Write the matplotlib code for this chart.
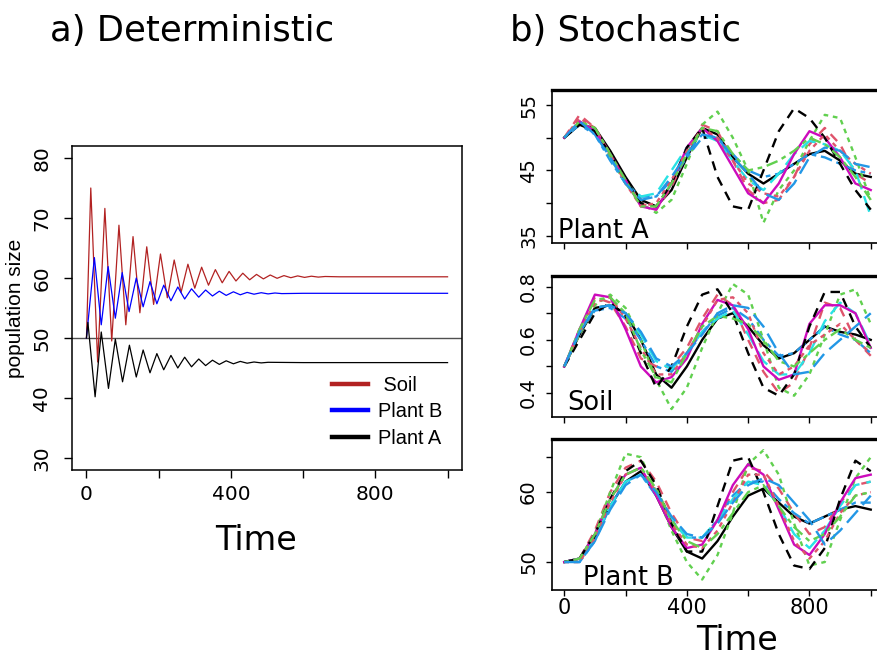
import matplotlib
matplotlib.use("Agg")
import matplotlib.pyplot as plt
from matplotlib.lines import Line2D

# ---------------- data: a) deterministic (extrema read from the picture) ----------------
det_soil_t = [0, 12, 31, 51, 70, 90, 109, 129, 148, 167, 186, 205, 224, 243, 262, 281, 300, 319, 338, 357,
              376, 395, 414, 433, 452, 471, 490, 509, 528, 547, 566, 585, 604, 623, 642, 661, 700, 1000]
det_soil = [50, 75.0, 46.0, 71.6, 49.5, 68.8, 52.2, 66.9, 54.2, 65.2, 55.6, 64.0, 56.7, 63.0, 57.6, 62.3,
            58.3, 61.8, 58.8, 61.4, 59.2, 61.1, 59.5, 60.8, 59.7, 60.6, 59.85, 60.5, 59.95, 60.4, 60.05,
            60.35, 60.1, 60.3, 60.15, 60.25, 60.2, 60.2]

det_pb_t = [0, 22, 41, 60, 80, 99, 118, 138, 157, 176, 195, 214, 234, 253, 272, 291, 311, 330, 349, 368,
            387, 407, 426, 445, 464, 484, 503, 522, 541, 600, 1000]
det_pb = [50, 63.4, 52.2, 61.9, 53.3, 60.9, 54.4, 60.0, 55.2, 59.4, 55.7, 58.8, 56.2, 58.5, 56.5, 58.2,
          56.8, 58.0, 57.0, 57.8, 57.1, 57.7, 57.2, 57.6, 57.3, 57.55, 57.35, 57.5, 57.4, 57.45, 57.45]

det_pa_t = [0, 4, 24, 41, 61, 80, 100, 119, 138, 157, 176, 195, 214, 234, 253, 272, 291, 311, 330, 349,
            368, 387, 407, 426, 445, 464, 484, 503, 600, 1000]
det_pa = [50, 52.6, 40.2, 51.0, 41.6, 49.8, 42.7, 48.8, 43.5, 48.0, 44.2, 47.4, 44.7, 47.1, 45.0, 46.8,
          45.2, 46.5, 45.4, 46.3, 45.6, 46.2, 45.7, 46.1, 45.8, 46.0, 45.85, 45.95, 45.9, 45.9]

det_labels = ["Soil", "Plant B", "Plant A"]
det_colors = ["#B22222", "#0000FF", "#000000"]
det_ref_level = 50

# ---------------- data: b) stochastic runs ----------------
stoch_t = [0, 50, 100, 150, 200, 250, 300, 350, 400, 450, 500, 550, 600, 650, 700, 750, 800, 850, 900, 950, 1000]

plantA_runs = [
    [50, 52, 51.5, 48, 44, 40.5, 39.5, 42, 47, 51.5, 50.5, 47, 44.5, 43, 44.5, 46, 47.5, 48, 46.5, 44.5, 44],
    [50, 53.5, 51.5, 47.5, 43.5, 40, 39, 42.5, 47.5, 52, 51, 46.5, 42, 40, 40.5, 44, 49, 51.5, 49, 44.5, 43],
    [50, 52.5, 51, 47, 43, 40, 38.5, 40.5, 46, 52, 54, 50, 45, 37, 42, 45, 49.5, 53.5, 53, 47, 40.5],
    [50, 52, 50.5, 46.5, 43, 41, 41, 43.5, 47, 50, 50, 47.5, 45, 44, 44.5, 46, 47.5, 47, 46, 45, 44.5],
    [50, 52.5, 51, 47, 43, 41, 41.5, 45, 48.5, 50.5, 49.5, 46.5, 43.5, 42, 44.5, 47.5, 49.5, 49, 48, 45, 38],
    [50, 52.5, 51, 47.5, 43.5, 39.5, 39, 43, 48.5, 51.5, 49.5, 45.5, 41.5, 40, 43, 47.5, 51, 50, 47, 43, 42],
    [50, 52, 51, 47.5, 43.5, 40, 39.5, 43, 48.5, 51.5, 44, 39.5, 39, 45, 51, 54.5, 53, 50, 46, 42, 39],
    [50, 53, 51.5, 47.5, 43, 39.5, 40, 43.5, 48, 51.5, 50, 46.5, 43, 41.5, 41, 44, 48, 50.5, 48, 46, 44.5],
    [50, 52.5, 51.5, 47.5, 43.5, 39.5, 39.5, 43, 47.5, 51.5, 51, 47.5, 45, 45.5, 46.5, 48, 50, 49, 47, 44, 40.5],
    [50, 52.5, 50.5, 47, 43, 40.5, 41, 44, 47.5, 50.5, 50, 47, 44.5, 41.5, 40.5, 43, 47, 48.5, 48, 46, 45.5],
]

soil_runs = [
    [0.5, 0.62, 0.72, 0.73, 0.7, 0.6, 0.47, 0.42, 0.5, 0.6, 0.68, 0.7, 0.65, 0.58, 0.53, 0.55, 0.6, 0.65, 0.63, 0.62, 0.6],
    [0.5, 0.64, 0.76, 0.74, 0.65, 0.53, 0.5, 0.5, 0.57, 0.68, 0.77, 0.73, 0.6, 0.48, 0.4, 0.44, 0.57, 0.74, 0.72, 0.6, 0.54],
    [0.5, 0.62, 0.73, 0.77, 0.72, 0.6, 0.45, 0.34, 0.42, 0.57, 0.7, 0.81, 0.77, 0.6, 0.42, 0.39, 0.47, 0.62, 0.77, 0.79, 0.66],
    [0.5, 0.63, 0.71, 0.72, 0.68, 0.6, 0.5, 0.48, 0.55, 0.63, 0.69, 0.72, 0.68, 0.6, 0.54, 0.55, 0.6, 0.65, 0.62, 0.6, 0.55],
    [0.5, 0.63, 0.72, 0.73, 0.7, 0.62, 0.52, 0.49, 0.55, 0.63, 0.68, 0.71, 0.62, 0.52, 0.47, 0.47, 0.55, 0.67, 0.74, 0.7, 0.58],
    [0.5, 0.64, 0.77, 0.76, 0.64, 0.5, 0.44, 0.46, 0.53, 0.66, 0.75, 0.73, 0.64, 0.5, 0.45, 0.47, 0.66, 0.73, 0.73, 0.7, 0.57],
    [0.5, 0.6, 0.7, 0.74, 0.69, 0.55, 0.42, 0.5, 0.65, 0.77, 0.79, 0.7, 0.55, 0.42, 0.39, 0.47, 0.65, 0.78, 0.78, 0.65, 0.57],
    [0.5, 0.63, 0.74, 0.76, 0.68, 0.57, 0.47, 0.47, 0.55, 0.65, 0.75, 0.76, 0.7, 0.55, 0.47, 0.5, 0.58, 0.62, 0.66, 0.6, 0.55],
    [0.5, 0.64, 0.75, 0.76, 0.7, 0.56, 0.46, 0.44, 0.55, 0.65, 0.69, 0.68, 0.66, 0.6, 0.52, 0.5, 0.55, 0.6, 0.64, 0.6, 0.57],
    [0.5, 0.63, 0.72, 0.73, 0.7, 0.63, 0.53, 0.5, 0.55, 0.62, 0.7, 0.73, 0.72, 0.65, 0.55, 0.47, 0.48, 0.55, 0.6, 0.65, 0.7],
]

plantB_runs = [
    [50, 50.5, 53.5, 58, 61.5, 63, 59.5, 55, 51.5, 50.5, 53, 56.5, 59.5, 60.5, 58.5, 56.5, 55.5, 56.5, 57.5, 58, 57.5],
    [50, 50.5, 54.5, 60, 63.5, 64.5, 61.5, 57, 53.5, 53, 56, 60, 63.5, 63, 60.5, 57, 54, 55, 58.5, 61, 61.5],
    [50, 50.5, 54, 60, 65.5, 65, 60, 54.5, 50, 47.5, 51, 57, 64, 66, 62.5, 55.5, 49.5, 50, 56, 62, 65],
    [50, 50, 53, 58, 61.5, 62.5, 59.5, 56, 53.5, 53.5, 56, 59.5, 61.5, 61.5, 59, 57, 55.5, 56.5, 57.5, 58.5, 58.5],
    [50, 50.5, 53.5, 58, 61.5, 62.5, 60, 56, 53.5, 53.5, 56, 59, 61.5, 61, 58, 54, 52, 54.5, 58, 61, 61.5],
    [50, 50.5, 54, 59, 62.5, 63.5, 59.5, 55, 52, 52.5, 56, 61, 64, 62.5, 57.5, 52.5, 51, 54, 58.5, 62, 62.5],
    [50, 50.5, 54, 59, 63, 64.5, 61, 55.5, 51.5, 51.5, 58, 64.5, 65, 60, 54, 49.5, 49, 52, 59, 64.5, 63],
    [50, 50, 53.5, 58.5, 62.5, 63.5, 60, 55.5, 52.5, 52, 54.5, 58.5, 62.5, 62.5, 58, 53, 50.5, 53, 57, 59.5, 60],
    [50, 50.5, 54, 59, 62.5, 63.5, 60.5, 56, 53, 52, 54, 57, 60, 61, 58, 55, 53, 54, 56.5, 59.5, 60],
    [50, 50, 53, 57.5, 61, 62.5, 60, 56.5, 54, 53.5, 55.5, 58.5, 61, 62, 61, 58.5, 56, 52.5, 54.5, 57, 59.5],
]

run_colors = ["#000000", "#DF536B", "#61D04F", "#2297E6", "#28E2E5", "#CD0BBC"]
run_styles = ["-", (0, (4, 3)), (0, (2, 2)), (0, (2, 2, 5, 2)), (0, (7, 3))]

stoch_panels = [("Plant A", plantA_runs, (33.9, 57.3), [35, 40, 45, 50, 55], ["35", "", "45", "", "55"]),
                ("Soil", soil_runs, (0.31, 0.84), [0.4, 0.5, 0.6, 0.7, 0.8], ["0.4", "", "0.6", "", "0.8"]),
                ("Plant B", plantB_runs, (46.0, 67.6), [50, 55, 60, 65], ["50", "", "60", ""])]

# ---------------- figure ----------------
W, H = 877, 656
fig = plt.figure(figsize=(W / 100, H / 100), dpi=100)


def rect(l, t, r, b):
    return [l / W, 1 - b / H, (r - l) / W, (b - t) / H]


# ---- panel a ----
ax = fig.add_axes(rect(72, 146, 462, 470))
ax.axhline(det_ref_level, color="#505050", lw=1.0, zorder=1)
ax.plot(det_soil_t, det_soil, color=det_colors[0], lw=0.9, label=det_labels[0])
ax.plot(det_pb_t, det_pb, color=det_colors[1], lw=0.9, label=det_labels[1])
ax.plot(det_pa_t, det_pa, color=det_colors[2], lw=0.9, label=det_labels[2])
ax.set_xlim(-40, 1040)
ax.set_ylim(28, 82)
ax.set_xticks([0, 200, 400, 600, 800, 1000])
ax.set_xticklabels(["0", "", "400", "", "800", ""])
ax.set_yticks([30, 40, 50, 60, 70, 80])
for s in ax.spines.values():
    s.set_linewidth(1.1)
ax.tick_params(axis="x", length=6, width=1, pad=5, labelsize=14.5)
ax.tick_params(axis="y", length=6, width=1, pad=9, labelsize=14.5, labelrotation=90)
for lab in ax.get_yticklabels():
    lab.set_verticalalignment("center")
ax.set_ylabel("population size", fontsize=15, family="Liberation Sans", labelpad=5)
handles = [Line2D([], [], color=c, lw=3.2) for c in det_colors]
ax.legend(handles, [" " + det_labels[0], det_labels[1], det_labels[2]], frameon=False,
          loc="upper left", bbox_to_anchor=(0.64, 0.322), borderpad=0, handlelength=1.8,
          handletextpad=0.5, labelspacing=0.38, prop={"family": "Liberation Sans", "size": 14.4})
fig.text(50 / W, 1 - 41 / H, "a) Deterministic", fontsize=25.5, ha="left", va="baseline")
fig.text(256 / W, 1 - 540 / H, "Time", fontsize=24, ha="center", va="center")

# ---- panel b ----
b_rects = [(552, 90, 883, 243), (552, 276, 883, 417), (552, 439, 883, 590)]
label_pos = [(558, 238), (567, 410), (583, 585)]
for i, (name, runs, ylim, yt, ytl) in enumerate(stoch_panels):
    bx = fig.add_axes(rect(*b_rects[i]))
    for k, run in enumerate(runs):
        bx.plot(stoch_t, run, color=run_colors[k % 6], ls=run_styles[k % 5], lw=1.7)
    bx.set_xlim(-40, 1040)
    bx.set_ylim(*ylim)
    bx.set_xticks([0, 200, 400, 600, 800, 1000])
    if i == 2:
        bx.set_xticklabels(["0", "", "400", "", "800", ""])
    else:
        bx.set_xticklabels([])
    bx.set_yticks(yt)
    bx.set_yticklabels(ytl)
    for s in bx.spines.values():
        s.set_linewidth(1.2)
    bx.spines["top"].set_linewidth(2.4)
    bx.tick_params(axis="x", length=4, width=1, pad=2, labelsize=15)
    bx.tick_params(axis="y", length=4, width=1, pad=6, labelsize=14, labelrotation=90)
    for lab in bx.get_yticklabels():
        lab.set_verticalalignment("center")
    lx, ly = label_pos[i]
    fig.text(lx / W, 1 - ly / H, name, fontsize=18.5, ha="left", va="baseline")

fig.text(510 / W, 1 - 41 / H, "b) Stochastic", fontsize=25.5, ha="left", va="baseline")
fig.text(737 / W, 1 - 640 / H, "Time", fontsize=24, ha="center", va="center")

fig.savefig("out.png", dpi=100)
